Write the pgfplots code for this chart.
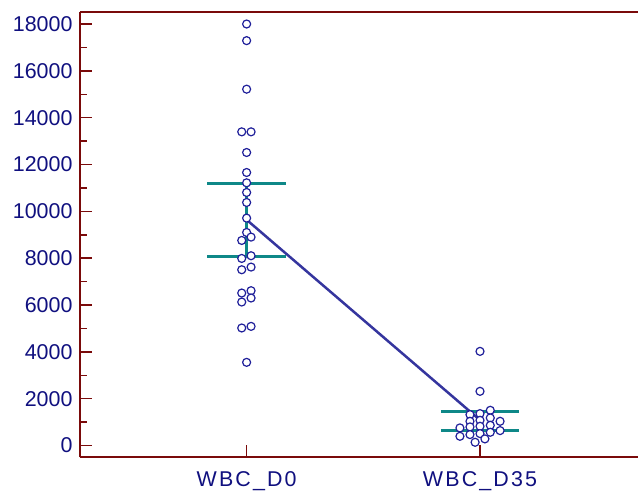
\documentclass[border=0pt]{standalone}
\usepackage{fontspec}
\setmainfont{Liberation Sans}
\usepackage{pgfplots}
\pgfplotsset{compat=1.18}
\definecolor{navy}{HTML}{10107F}
\definecolor{spine}{HTML}{7A0A0A}
\definecolor{tealc}{HTML}{0E8888}
\definecolor{linec}{HTML}{35359E}
\definecolor{markc}{HTML}{20209A}
\begin{document}
\begin{tikzpicture}
\begin{axis}[
  scale only axis, width=558bp, height=445bp,
  xmin=-0.714, xmax=1.677, ymin=-500, ymax=18500,
  axis x line*=bottom, axis y line*=left,
  axis line style={spine, line width=2bp, -},
  xtick={0,1}, xticklabels={WBC\_D0,WBC\_D35},
  ytick={0,2000,...,18000}, minor ytick={1000,3000,...,17000},
  scaled y ticks=false,
  tick align=inside,
  major tick length=12bp, minor tick length=7bp,
  every tick/.style={spine, line width=1.5bp},
  tick label style={font=\fontsize{21.5}{25}\selectfont, text=navy},
  yticklabel style={xshift=-4bp},
  xticklabel style={font=\fontsize{21.5}{25}\selectfont\addfontfeature{LetterSpace=10}, yshift=-11bp},
  /pgf/number format/assume math mode=true,
  /pgf/number format/1000 sep={},
  clip=false,
]
\draw[spine, line width=2bp] (rel axis cs:0,1) -- (rel axis cs:1,1);
% D0 interval lines
\addplot[tealc, line width=3bp] coordinates {(-0.168,11180) (0.168,11180)};
\addplot[tealc, line width=3bp] coordinates {(-0.168,8055) (0.168,8055)};
\addplot[tealc, line width=3bp] coordinates {(0,8055) (0,11180)};
% D35 interval lines
\addplot[tealc, line width=3bp] coordinates {(0.832,1464) (1.168,1464)};
\addplot[tealc, line width=3bp] coordinates {(0.832,640) (1.168,640)};
\addplot[tealc, line width=3bp] coordinates {(1,640) (1,1464)};
% D0 points
\addplot[only marks, mark=*, mark size=4bp, mark options={draw=markc, fill=white, line width=1.2bp}] coordinates {
(0,18000) (0,17290) (0,15218) (-0.021,13396) (0.019,13396) (0,12514) (0,11660) (0,11220)
(0,10807) (0,10380) (0,9713) (0,9100) (0.019,8902) (-0.021,8759) (0.019,8106) (-0.021,7991)
(0.019,7622) (-0.021,7508) (0.019,6613) (-0.021,6514) (0.019,6301) (-0.021,6130) (0.019,5090)
(-0.021,5021) (0,3554)
};
% D35 points
\addplot[only marks, mark=*, mark size=4bp, mark options={draw=markc, fill=white, line width=1.2bp}] coordinates {
(1,4023) (1,2317)
(0.957,1323) (1,1366) (1.044,1507)
(0.957,1037) (1,1080) (1.044,1182) (1.086,1037)
(0.914,755) (0.957,798) (1,824) (1.044,867) (1.086,640)
(0.914,397) (0.957,470) (1,512) (1.044,568)
(1.021,286) (0.979,141)
};
% connecting line of means
\addplot[linec, line width=2.5bp] coordinates {(0,9640) (1,1090)};
\end{axis}
\pgfresetboundingbox
\path ([xshift=-80bp,yshift=-35.7bp]current axis.south west) rectangle ([yshift=12.3bp]current axis.north east);
\end{tikzpicture}
\end{document}
